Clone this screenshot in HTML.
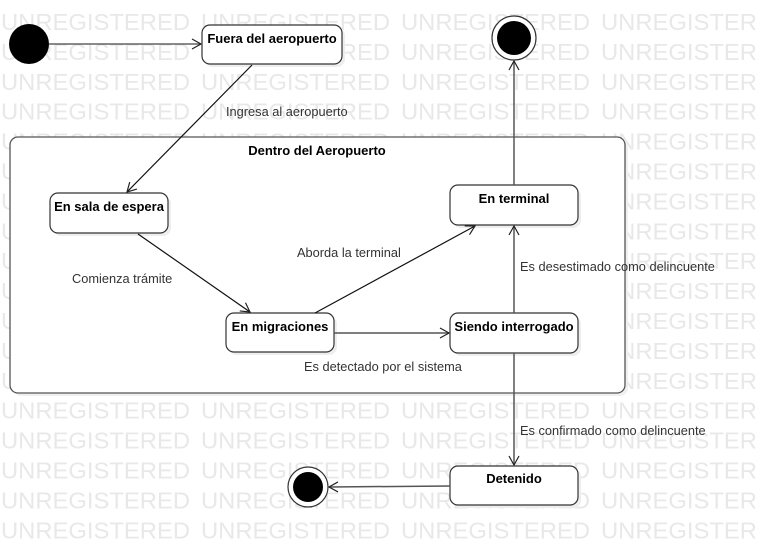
<!DOCTYPE html>
<html><head><meta charset="utf-8"><style>
html,body{margin:0;padding:0;background:#fff;}
svg{display:block;}
.wm{font-family:"Liberation Sans",sans-serif;font-size:23.5px;fill:#e8e8e8;}
.b{font-family:"Liberation Sans",sans-serif;font-size:13px;font-weight:bold;fill:#000;}
.l{font-family:"Liberation Sans",sans-serif;font-size:12.8px;fill:#333;}
</style></head><body>
<svg width="757" height="547" viewBox="0 0 757 547" xmlns="http://www.w3.org/2000/svg">
<g class="wm" id="wm"></g>
<script>
var g=document.getElementById('wm');
for(var r=0;r<18;r++){for(var c=0;c<4;c++){var t=document.createElementNS('http://www.w3.org/2000/svg','text');t.setAttribute('x',c*200+1);t.setAttribute('y',30+r*29.9);t.setAttribute('textLength','189');t.setAttribute('lengthAdjust','spacingAndGlyphs');t.textContent='UNREGISTERED';g.appendChild(t);}}
</script>
<defs>
<marker id="a" markerWidth="12" markerHeight="12" refX="10" refY="6" orient="auto" markerUnits="userSpaceOnUse"><path d="M1,1 L10,6 L1,11" fill="none" stroke="#222" stroke-width="1.2"/></marker>
</defs>
<rect x="13" y="140" width="615" height="256" rx="8" fill="#f0f0f0"/>
<rect x="10" y="137" width="615" height="256" rx="8" fill="#fff" stroke="#555" stroke-width="1.3"/>
<text class="b" x="317" y="155" text-anchor="middle">Dentro del Aeropuerto</text>
<circle cx="29" cy="44" r="20" fill="#000"/>
<circle cx="514" cy="38" r="22" fill="#fff" stroke="#333" stroke-width="1.2"/>
<circle cx="514" cy="38" r="17" fill="#000"/>
<circle cx="308" cy="487" r="20" fill="#fff" stroke="#333" stroke-width="1.2"/>
<circle cx="308" cy="487" r="15" fill="#000"/>
<g fill="#fff" stroke="#333" stroke-width="1.2">
<rect x="205" y="28" width="140" height="39" rx="8" fill="#eee" stroke="none"/>
<rect x="202" y="25" width="140" height="39" rx="8"/>
<rect x="53" y="196" width="118" height="40" rx="8" fill="#eee" stroke="none"/>
<rect x="50" y="193" width="118" height="40" rx="8"/>
<rect x="453" y="188" width="128" height="40" rx="8" fill="#eee" stroke="none"/>
<rect x="450" y="185" width="128" height="40" rx="8"/>
<rect x="229" y="316" width="108" height="39" rx="8" fill="#eee" stroke="none"/>
<rect x="226" y="313" width="108" height="39" rx="8"/>
<rect x="453" y="316" width="128" height="40" rx="8" fill="#eee" stroke="none"/>
<rect x="450" y="313" width="128" height="40" rx="8"/>
<rect x="453" y="469" width="128" height="39" rx="8" fill="#eee" stroke="none"/>
<rect x="450" y="466" width="128" height="39" rx="8"/>
</g>
<text class="b" x="272" y="43" text-anchor="middle">Fuera del aeropuerto</text>
<text class="b" x="109" y="211" text-anchor="middle">En sala de espera</text>
<text class="b" x="514" y="203" text-anchor="middle">En terminal</text>
<text class="b" x="280" y="331" text-anchor="middle">En migraciones</text>
<text class="b" x="514" y="331" text-anchor="middle">Siendo interrogado</text>
<text class="b" x="514" y="483" text-anchor="middle">Detenido</text>
<g fill="none" stroke-width="1.2">
<line x1="49" y1="44" x2="201" y2="44" stroke="#444" marker-end="url(#a)"/>
<line x1="252" y1="65" x2="127" y2="192" stroke="#111" marker-end="url(#a)"/>
<line x1="138" y1="234" x2="250" y2="312" stroke="#111" marker-end="url(#a)"/>
<line x1="315" y1="313" x2="475" y2="226" stroke="#111" marker-end="url(#a)"/>
<line x1="334" y1="333" x2="449" y2="333" stroke="#555" stroke-width="1.5" marker-end="url(#a)"/>
<line x1="514" y1="313" x2="514" y2="226" stroke="#555" stroke-width="1.5" marker-end="url(#a)"/>
<line x1="514" y1="185" x2="514" y2="61" stroke="#555" stroke-width="1.5" marker-end="url(#a)"/>
<line x1="514" y1="353" x2="514" y2="465" stroke="#555" stroke-width="1.5" marker-end="url(#a)"/>
<line x1="450" y1="486" x2="329" y2="487" stroke="#555" stroke-width="1.5" marker-end="url(#a)"/>
</g>
<text class="l" x="226" y="116">Ingresa al aeropuerto</text>
<text class="l" x="72" y="283">Comienza trámite</text>
<text class="l" x="297" y="257">Aborda la terminal</text>
<text class="l" x="304" y="371">Es detectado por el sistema</text>
<text class="l" x="520" y="271">Es desestimado como delincuente</text>
<text class="l" x="520" y="435">Es confirmado como delincuente</text>
</svg>
</body></html>
